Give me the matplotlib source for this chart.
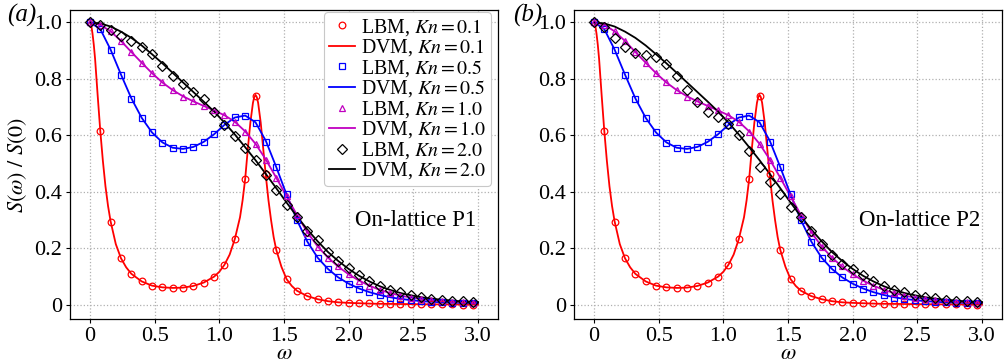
import numpy as np
import matplotlib
matplotlib.use("Agg")
import matplotlib.pyplot as plt

plt.rcParams['font.family'] = ['Liberation Serif', 'DejaVu Serif']
plt.rcParams['mathtext.fontset'] = 'stix'

# ---------------- data ----------------
w_lbm = np.round(np.arange(38) * 0.08, 2)          # 0 ... 2.96
w_dvm = np.append(w_lbm, 3.0)                      # 0 ... 2.96, 3.0

lbm_kn01 = [1.0, 0.616, 0.295, 0.165, 0.110, 0.083, 0.068, 0.062, 0.060, 0.061,
            0.067, 0.079, 0.100, 0.142, 0.233, 0.446, 0.739, 0.462, 0.195, 0.091,
            0.050, 0.031, 0.020, 0.013, 0.009, 0.007, 0.006, 0.005, 0.004, 0.004,
            0.003, 0.003, 0.002, 0.002, 0.002, 0.002, 0.001, 0.001]

w_dvm01 = [0, 0.01, 0.02, 0.03, 0.04, 0.06, 0.08, 0.10, 0.12, 0.14,
           0.16, 0.20, 0.24, 0.28, 0.32, 0.40, 0.48, 0.56, 0.64, 0.72,
           0.80, 0.88, 0.96, 1.00, 1.04, 1.08, 1.12, 1.16, 1.18, 1.20,
           1.22, 1.24, 1.26, 1.27, 1.28, 1.29, 1.30, 1.32, 1.34, 1.36,
           1.38, 1.40, 1.42, 1.44, 1.48, 1.52, 1.56, 1.60, 1.68, 1.76,
           1.84, 1.92, 2.00, 2.20, 2.40, 2.60, 2.80, 3.00]
dvm_kn01 = [1.0, 0.99, 0.96, 0.92, 0.87, 0.74, 0.616, 0.51, 0.42, 0.35,
            0.295, 0.215, 0.165, 0.133, 0.110, 0.083, 0.068, 0.062, 0.060, 0.061,
            0.067, 0.079, 0.100, 0.117, 0.142, 0.178, 0.233, 0.31, 0.37, 0.446,
            0.55, 0.645, 0.715, 0.735, 0.743, 0.735, 0.715, 0.645, 0.55, 0.455,
            0.37, 0.30, 0.24, 0.195, 0.135, 0.091, 0.067, 0.050, 0.031, 0.020,
            0.013, 0.009, 0.007, 0.004, 0.003, 0.002, 0.0015, 0.001]

lbm_kn05 = [1.0, 0.975, 0.902, 0.814, 0.730, 0.662, 0.610, 0.574, 0.555, 0.552,
            0.560, 0.578, 0.605, 0.638, 0.664, 0.669, 0.644, 0.578, 0.487, 0.392,
            0.300, 0.223, 0.166, 0.126, 0.097, 0.073, 0.057, 0.044, 0.034, 0.026,
            0.021, 0.017, 0.013, 0.011, 0.009, 0.008, 0.007, 0.006]
dvm_kn05 = [1.0, 0.976, 0.903, 0.815, 0.731, 0.662, 0.610, 0.575, 0.556, 0.552,
            0.559, 0.577, 0.604, 0.637, 0.663, 0.670, 0.646, 0.580, 0.488, 0.390,
            0.300, 0.224, 0.167, 0.127, 0.097, 0.075, 0.058, 0.045, 0.035, 0.027,
            0.021, 0.017, 0.013, 0.011, 0.009, 0.008, 0.007, 0.006, 0.006]

lbm_kn10 = [1.0, 0.990, 0.969, 0.933, 0.894, 0.857, 0.820, 0.787, 0.761, 0.737,
            0.721, 0.704, 0.689, 0.673, 0.647, 0.613, 0.570, 0.513, 0.449, 0.386,
            0.318, 0.254, 0.205, 0.167, 0.136, 0.108, 0.085, 0.067, 0.052, 0.041,
            0.032, 0.026, 0.020, 0.017, 0.013, 0.011, 0.009, 0.008]
dvm_kn10 = [1.0, 0.991, 0.968, 0.934, 0.895, 0.857, 0.820, 0.787, 0.760, 0.738,
            0.720, 0.704, 0.688, 0.671, 0.648, 0.614, 0.570, 0.514, 0.450, 0.384,
            0.318, 0.257, 0.207, 0.167, 0.135, 0.108, 0.086, 0.068, 0.053, 0.042,
            0.033, 0.026, 0.021, 0.017, 0.014, 0.011, 0.009, 0.008, 0.0075]

lbm_kn20_p1 = [1.0, 0.992, 0.973, 0.953, 0.934, 0.914, 0.887, 0.847, 0.811, 0.781,
               0.752, 0.728, 0.684, 0.638, 0.596, 0.555, 0.513, 0.461, 0.407, 0.355,
               0.312, 0.263, 0.228, 0.186, 0.156, 0.130, 0.106, 0.085, 0.068, 0.054,
               0.044, 0.034, 0.029, 0.022, 0.019, 0.015, 0.013, 0.011]
lbm_kn20_p2 = [1.0, 0.985, 0.946, 0.911, 0.890, 0.884, 0.876, 0.852, 0.810, 0.760,
               0.717, 0.684, 0.665, 0.640, 0.601, 0.546, 0.487, 0.436, 0.392, 0.348,
               0.310, 0.263, 0.216, 0.176, 0.144, 0.126, 0.105, 0.085, 0.067, 0.053,
               0.044, 0.035, 0.029, 0.024, 0.019, 0.015, 0.013, 0.011]
dvm_kn20 = [1.0, 0.996, 0.985, 0.967, 0.945, 0.918, 0.887, 0.855, 0.821, 0.787,
            0.753, 0.719, 0.684, 0.645, 0.603, 0.558, 0.512, 0.463, 0.413, 0.362,
            0.313, 0.267, 0.225, 0.187, 0.155, 0.127, 0.103, 0.083, 0.066, 0.053,
            0.042, 0.034, 0.027, 0.022, 0.018, 0.015, 0.012, 0.010, 0.0095]

xticks = [0, 0.5, 1.0, 1.5, 2.0, 2.5, 3.0]
xticklabels = ['0', '0.5', '1.0', '1.5', '2.0', '2.5', '3.0']
yticks = [0, 0.2, 0.4, 0.6, 0.8, 1.0]
yticklabels = ['0', '0.2', '0.4', '0.6', '0.8', '1.0']
panel_texts = ['On-lattice P1', 'On-lattice P2']
panel_labels = ['(a)', '(b)']

# ---------------- figure ----------------
W, H = 1006, 364
fig = plt.figure(figsize=(W / 100, H / 100), dpi=100)

RED, BLUE, MAG, BLK = '#ff0000', '#0000ff', '#c000c0', '#000000'
FS = 16
ms = 4.8
mew = 0.9
lw = 1.3

ax_lefts = [70, 574]
lbm_black = [lbm_kn20_p1, lbm_kn20_p2]

for i, left in enumerate(ax_lefts):
    ax = fig.add_axes([left / W, 45 / H, 428 / W, 309 / H])
    ax.plot(w_lbm, lbm_kn01, 'o', ls='none', mfc='none', mec=RED, ms=ms, mew=mew,
            label=r'LBM, $Kn = 0.1$', zorder=3)
    ax.plot(w_dvm01, dvm_kn01, '-', color=RED, lw=lw, label=r'DVM, $Kn = 0.1$', zorder=2)
    ax.plot(w_lbm, lbm_kn05, 's', ls='none', mfc='none', mec=BLUE, ms=ms, mew=mew,
            label=r'LBM, $Kn = 0.5$', zorder=3)
    ax.plot(w_dvm, dvm_kn05, '-', color=BLUE, lw=lw, label=r'DVM, $Kn = 0.5$', zorder=2)
    ax.plot(w_lbm, lbm_kn10, '^', ls='none', mfc='none', mec=MAG, ms=ms, mew=mew,
            label=r'LBM, $Kn = 1.0$', zorder=3)
    ax.plot(w_dvm, dvm_kn10, '-', color=MAG, lw=lw, label=r'DVM, $Kn = 1.0$', zorder=2)
    ax.plot(w_lbm, lbm_black[i], 'D', ls='none', mfc='none', mec=BLK, ms=ms, mew=mew,
            label=r'LBM, $Kn = 2.0$', zorder=3)
    ax.plot(w_dvm, dvm_kn20, '-', color=BLK, lw=lw, label=r'DVM, $Kn = 2.0$', zorder=2)

    ax.set_xlim(-0.154, 3.154)
    ax.set_ylim(-0.05, 1.0435)
    ax.set_xticks(xticks)
    ax.set_xticklabels(xticklabels)
    ax.set_yticks(yticks)
    ax.set_yticklabels(yticklabels)
    ax.tick_params(direction='out', length=3, width=0.8, labelsize=FS, pad=2.5)
    ax.grid(True, ls=':', color='#b0b0b0', lw=0.9)
    ax.set_axisbelow(True)
    for s in ax.spines.values():
        s.set_linewidth(0.9)

    ax.set_xlabel(r'$\omega$', fontsize=FS, va='baseline')
    ax.xaxis.set_label_coords(0.5, -0.128)
    if i == 0:
        ax.set_ylabel(r'$S(\omega)\ /\ S(0)$', fontsize=FS, va='center')
        ax.yaxis.set_label_coords(-0.122, 0.5)
        leg = ax.legend(loc='upper right', bbox_to_anchor=(0.9836, 0.9935),
                        borderaxespad=0, fontsize=14.3, labelspacing=-0.02,
                        handlelength=1.3, handletextpad=0.3, borderpad=0.25,
                        frameon=True, fancybox=True, framealpha=1,
                        edgecolor='#c8c8c8')
        leg.get_frame().set_linewidth(0.8)

    ax.text(2.52, 0.298, panel_texts[i], fontsize=16.5, ha='center', va='center')

fig.text(7 / W, 1 - 15 / H, panel_labels[0], fontsize=18, style='italic', va='center', ha='left')
fig.text(513 / W, 1 - 15 / H, panel_labels[1], fontsize=18, style='italic', va='center', ha='left')

fig.savefig('out.png', dpi=100)
